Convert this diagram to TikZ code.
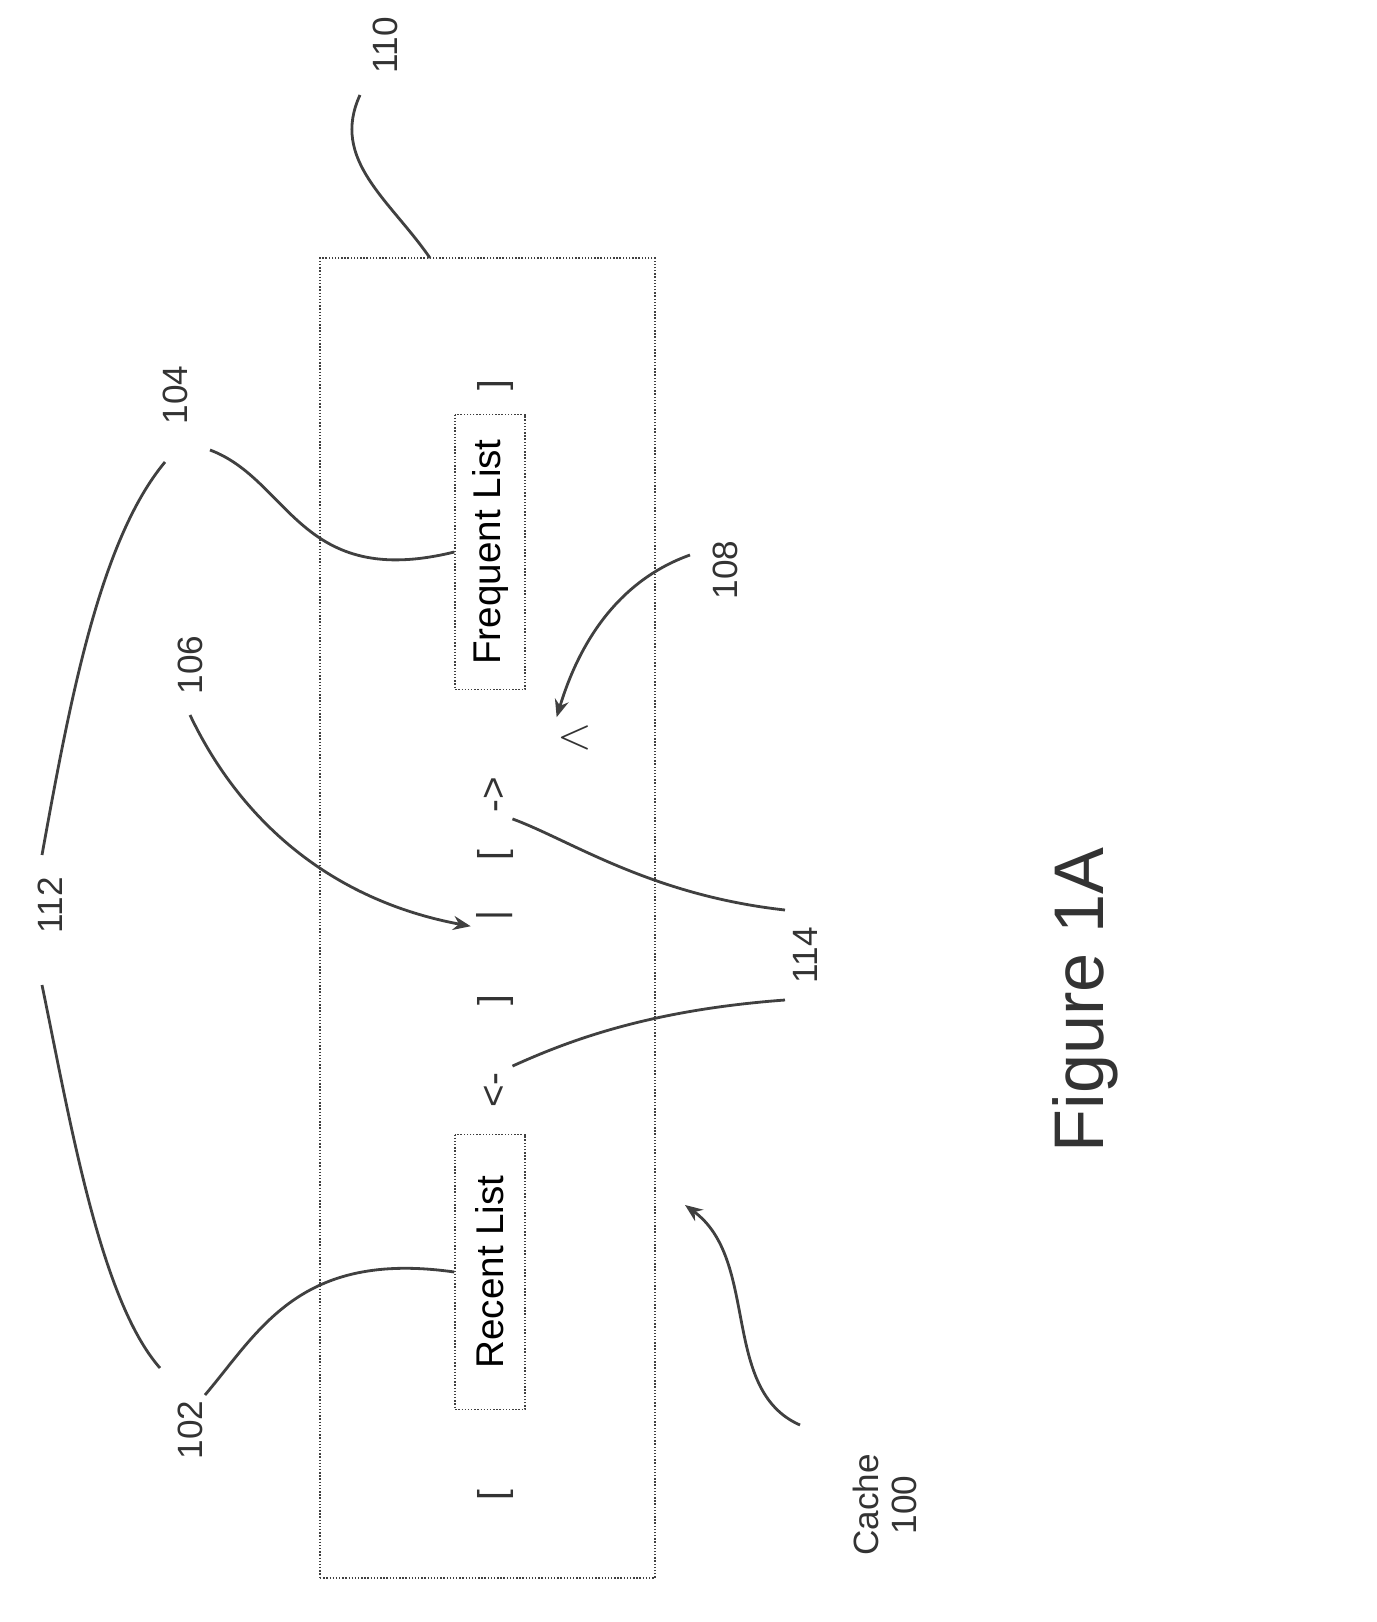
\documentclass[tikz,border=0pt]{standalone}
\usepackage{fontspec}
\setmainfont{Liberation Sans}
\usetikzlibrary{arrows.meta,positioning}
\tikzset{
  lbl/.style={rotate=90, font=\fontsize{20}{22}\selectfont, text=black!80},
  sym/.style={rotate=90, font=\fontsize{22}{24}\selectfont, text=black!80},
  lbox/.style={draw=black!75, densely dotted, thick, rotate=90, minimum width=5.5cm, minimum height=1.4cm, font=\fontsize{22}{24}\selectfont},
  lead/.style={draw=black!75, line width=1.6pt},
  ptr/.style={lead, -{Stealth[length=10pt,width=8pt]}},
}
\begin{document}
\begin{tikzpicture}[x=0.02cm, y=-0.02cm]
  \useasboundingbox (0,0) rectangle (1376,1622);
  % cache outline
  \node[draw=black!75, densely dotted, thick, minimum width=6.7cm, minimum height=26.4cm, inner sep=0pt] (cache) at (487.5,918) {};
  % list boxes
  \node[lbox] (freq) at (490,552) {Frequent List};
  \node[lbox] (rec) at (490,1272) {Recent List};
  % symbols
  \node[sym] (s1) at (495,385) {]};
  \node[sym] (s2) at (495,795) {->};
  \node[sym] (s3) at (495,855) {[};
  \node[sym] (s4) at (495,915) {|};
  \node[sym] (s5) at (495,1000) {]};
  \node[sym] (s6) at (495,1090) {<-};
  \node[sym] (s7) at (495,1495) {[};
  \node[sym, font=\fontsize{30}{32}\selectfont] (s8) at (575,738) {$\wedge$};
  % reference numerals
  \node[lbl] (n110) at (385,45) {110};
  \node[lbl] (n104) at (175,395) {104};
  \node[lbl] (n112) at (50,905) {112};
  \node[lbl] (n106) at (190,665) {106};
  \node[lbl] (n108) at (725,570) {108};
  \node[lbl] (n114) at (805,955) {114};
  \node[lbl] (n102) at (190,1430) {102};
  \node[lbl, align=center] (n100) at (885,1505) {Cache\\100};
  \node[rotate=90, font=\fontsize{40}{44}\selectfont, text=black!80] (fig) at (1085,1000) {Figure 1A};
  \coordinate (c110) at (430,258);
  \coordinate (c112a) at (165,462);
  \coordinate (c112b) at (160,1368);
  \coordinate (c100) at (685,1205);
  % leader lines
  \draw[lead] (c110) .. controls (390,200) and (330,160) .. (360,95);
  \draw[lead] (freq.north) .. controls (300,590) and (290,480) .. (210,450);
  \draw[lead] (c112a) .. controls (100,540) and (70,700) .. (42,855);
  \draw[lead] (c112b) .. controls (100,1300) and (70,1120) .. (42,985);
  \draw[ptr] (190,715) .. controls (240,820) and (330,900) .. (s4.north west);
  \draw[ptr] (690,555) .. controls (620,580) and (580,640) .. (s8.north east);
  \draw[lead] (785,910) .. controls (650,895) and (570,840) .. (s2.south west);
  \draw[lead] (785,1000) .. controls (650,1010) and (570,1040) .. (s6.south east);
  \draw[lead] (rec.north) .. controls (300,1250) and (260,1330) .. (205,1395);
  \draw[ptr] (800,1425) .. controls (720,1390) and (760,1260) .. (c100);
\end{tikzpicture}
\end{document}
